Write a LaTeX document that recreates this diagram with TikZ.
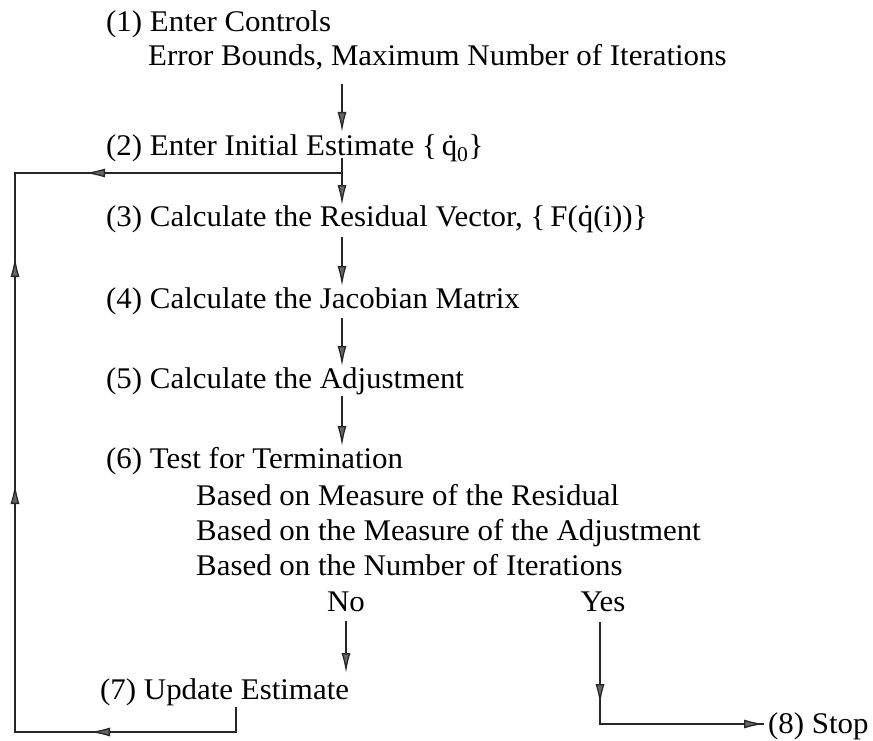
\documentclass[tikz,border=0pt]{standalone}
\usepackage{fontspec}
\setmainfont[FakeStretch=1.03]{Liberation Serif}
\usetikzlibrary{arrows.meta}
\begin{document}
\begin{tikzpicture}[x=1pt,y=-1pt,
  lbl/.style={anchor=base west,inner sep=0pt,font=\fontsize{30}{36}\selectfont},
  clbl/.style={anchor=base,inner sep=0pt,font=\fontsize{30}{36}\selectfont},
  wire/.style={line width=1.3pt,black!85},
  head/.style={-{Latex[length=20pt,width=9pt,fill=black!60]}},
  arr/.style={wire,head},
  tip/.style={line width=1.3pt,black!85,head}]
\useasboundingbox (0,0) rectangle (873,741);
% texts
\node[lbl] (t1) at (106,32) {(1) Enter Controls};
\node[lbl] (t1b) at (148,66) {Error Bounds, Maximum Number of Iterations};
\node[lbl] (t2) at (106,156) {(2) Enter Initial Estimate \{\,\.{q}\textsubscript{0}\}};
\node[lbl] (t3) at (106,226) {(3) Calculate the Residual Vector, \{\,F(\.{q}(i))\}};
\node[lbl] (t4) at (106,308) {(4) Calculate the Jacobian Matrix};
\node[lbl] (t5) at (106,388) {(5) Calculate the Adjustment};
\node[lbl] (t6) at (106,468) {(6) Test for Termination};
\node[lbl] (t6a) at (196,505) {Based on Measure of the Residual};
\node[lbl] (t6b) at (196,540) {Based on the Measure of the Adjustment};
\node[lbl] (t6c) at (196,575) {Based on the Number of Iterations};
\node[clbl] (no) at (346,611) {No};
\node[clbl] (yes) at (603,611) {Yes};
\node[lbl] (t7) at (100,699) {(7) Update Estimate};
\node[lbl] (t8) at (768,733) {(8) Stop};
% coordinates
\coordinate (a1s) at (342,84);
\coordinate (a1e) at (342,132);
\coordinate (j2) at (342,173);
\coordinate (a2s) at (342,158);
\coordinate (a2e) at (342,205);
\coordinate (a3s) at (342,237);
\coordinate (a3e) at (342,286);
\coordinate (a4s) at (342,318);
\coordinate (a4e) at (342,366);
\coordinate (a5s) at (342,396);
\coordinate (a5e) at (342,446);
\coordinate (ans) at (346,621);
\coordinate (ane) at (346,673);
\coordinate (s7) at (236,707);
\coordinate (b7) at (236,732);
\coordinate (lb) at (15,732);
\coordinate (lt) at (15,173);
\coordinate (ys) at (600,622);
\coordinate (yb) at (600,724);
\coordinate (ye) at (764,724);
% main arrows
\draw[arr] (a1s) -- (a1e);
\draw[arr] (a2s) -- (a2e);
\draw[arr] (a3s) -- (a3e);
\draw[arr] (a4s) -- (a4e);
\draw[arr] (a5s) -- (a5e);
\draw[arr] (ans) -- (ane);
% feedback loop
\draw[wire] (s7) -- (b7) -- (lb) -- (lt) -- (j2);
\draw[tip] (125,732) -- (90,732);
\draw[tip] (15,515) -- (15,484);
\draw[tip] (15,288) -- (15,257);
\draw[tip] (120,173) -- (85,173);
% yes branch
\draw[wire] (ys) -- (yb) -- (ye);
\draw[tip] (600,670) -- (600,704);
\draw[tip] (730,724) -- (ye);
\end{tikzpicture}
\end{document}
